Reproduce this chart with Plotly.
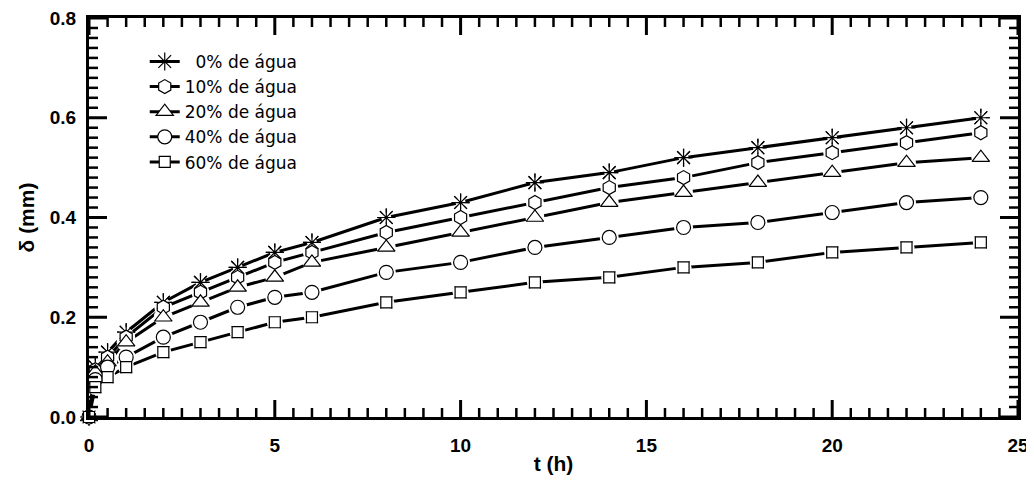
import plotly.graph_objects as go

t_h = [0, 0.17, 0.5, 1, 2, 3, 4, 5, 6, 8, 10, 12, 14, 16, 18, 20, 22, 24]

agua_0 = [0, 0.10, 0.13, 0.17, 0.23, 0.27, 0.30, 0.33, 0.35, 0.40, 0.43, 0.47, 0.49, 0.52, 0.54, 0.56, 0.58, 0.60]
agua_10 = [0, 0.095, 0.12, 0.16, 0.22, 0.25, 0.28, 0.31, 0.33, 0.37, 0.40, 0.43, 0.46, 0.48, 0.51, 0.53, 0.55, 0.57]
agua_20 = [0, 0.09, 0.11, 0.15, 0.20, 0.23, 0.26, 0.28, 0.31, 0.34, 0.37, 0.40, 0.43, 0.45, 0.47, 0.49, 0.51, 0.52]
agua_40 = [0, 0.075, 0.10, 0.12, 0.16, 0.19, 0.22, 0.24, 0.25, 0.29, 0.31, 0.34, 0.36, 0.38, 0.39, 0.41, 0.43, 0.44]
agua_60 = [0, 0.06, 0.08, 0.10, 0.13, 0.15, 0.17, 0.19, 0.20, 0.23, 0.25, 0.27, 0.28, 0.30, 0.31, 0.33, 0.34, 0.35]

series_names = ["\u00a0\u00a00% de água", "10% de água", "20% de água", "40% de água", "60% de água"]
series_values = [agua_0, agua_10, agua_20, agua_40, agua_60]
symbols = ["asterisk-open", "hexagon", "triangle-up", "circle", "square"]
sizes = [15, 14, 15, 14, 11]
fills = ["black", "white", "white", "white", "white"]
halo_sizes = [10, 18, 19, 19, 16]

# axis tick positions
x_major = [0, 5, 10, 15, 20, 25]
y_major = [0.0, 0.2, 0.4, 0.6, 0.8]
x_minor = [i * 0.5 for i in range(51) if i % 10 != 0]
y_minor = [round(i * 0.02, 2) for i in range(41) if i % 10 != 0]
X_RANGE = [0, 25]
Y_RANGE = [0, 0.8]

FONT = "Liberation Sans, Arial, sans-serif"
LEG_FONT = "DejaVu Sans, sans-serif"

W, H = 1026, 479
ML, MR, MT, MB = 81, 16, 10, 70
PX_X = (X_RANGE[1] - X_RANGE[0]) / (W - ML - MR)   # data units per pixel
PX_Y = (Y_RANGE[1] - Y_RANGE[0]) / (H - MT - MB)

fig = go.Figure()

for name, vals, sym, sz, fc in zip(series_names, series_values, symbols, sizes, fills):
    fig.add_trace(go.Scatter(
        x=t_h, y=vals, name=name, mode="lines+markers",
        line=dict(color="black", width=3),
        marker=dict(symbol=sym, size=sz, color=fc,
                    line=dict(color="black", width=1.2)),
        cliponaxis=False,
    ))

for vals, hs in zip(series_values, halo_sizes):
    fig.add_trace(go.Scatter(
        x=t_h, y=vals, mode="markers", showlegend=False, hoverinfo="skip",
        marker=dict(symbol="circle", size=hs, color="white", line=dict(width=0)),
        cliponaxis=False,
    ))

for vals, sym, sz, fc in zip(series_values, symbols, sizes, fills):
    fig.add_trace(go.Scatter(
        x=t_h, y=vals, mode="markers", showlegend=False,
        marker=dict(symbol=sym, size=sz, color=fc,
                    line=dict(color="black", width=1.2)),
        cliponaxis=False,
    ))


# inward ticks on all four sides, drawn as line segments through the data axes
def tick_segments(xvals, yvals, xlen_px, ylen_px):
    xs, ys = [], []
    for v in xvals:
        xs += [v, v, None, v, v, None]
        ys += [Y_RANGE[0], Y_RANGE[0] + xlen_px * PX_Y, None,
               Y_RANGE[1], Y_RANGE[1] - xlen_px * PX_Y, None]
    for v in yvals:
        xs += [X_RANGE[0], X_RANGE[0] + ylen_px * PX_X, None,
               X_RANGE[1], X_RANGE[1] - ylen_px * PX_X, None]
        ys += [v, v, None, v, v, None]
    return xs, ys


for xv, yv, xl, yl, w in ((x_major, y_major, 17, 18, 3), (x_minor, y_minor, 9, 9, 2.5)):
    tx, ty = tick_segments(xv, yv, xl, yl)
    fig.add_trace(go.Scatter(
        x=tx, y=ty, mode="lines", showlegend=False, hoverinfo="skip",
        line=dict(color="black", width=w), connectgaps=False, cliponaxis=False,
    ))

# page body has an 8px default margin, so the figure is offset by (8, 8)
fig.update_layout(
    width=W, height=H,
    margin=dict(l=ML, r=MR, t=MT, b=MB, autoexpand=False),
    paper_bgcolor="white", plot_bgcolor="white",
    font=dict(family=FONT, color="black"),
    showlegend=True,
    legend=dict(
        x=0.06, y=0.935, xanchor="left", yanchor="top",
        bgcolor="rgba(0,0,0,0)", borderwidth=0,
        font=dict(family=LEG_FONT, size=17, color="black"),
        tracegroupgap=0,
    ),
    xaxis=dict(
        range=X_RANGE, tickmode="array", tickvals=x_major, automargin=False,
        showgrid=False, zeroline=False,
        showline=True, linecolor="black", linewidth=3, mirror=True,
        ticks="",
        tickfont=dict(family=FONT, size=19, color="black", weight="bold"),
        ticklabelstandoff=9, ticklabeloverflow="allow",
        title=dict(text="t (h)", font=dict(family=FONT, size=21, color="black", weight="bold"), standoff=2),
    ),
    yaxis=dict(
        range=Y_RANGE, tickmode="array", tickvals=y_major, tickformat=".1f", automargin=False,
        showgrid=False, zeroline=False,
        showline=True, linecolor="black", linewidth=3, mirror=True,
        ticks="",
        tickfont=dict(family=FONT, size=19, color="black", weight="bold"),
        ticklabelstandoff=6, ticklabeloverflow="allow",
        title=dict(text="δ (mm)", font=dict(family=FONT, size=21, color="black", weight="bold"), standoff=10),
    ),
)

fig.write_html("out.html")
